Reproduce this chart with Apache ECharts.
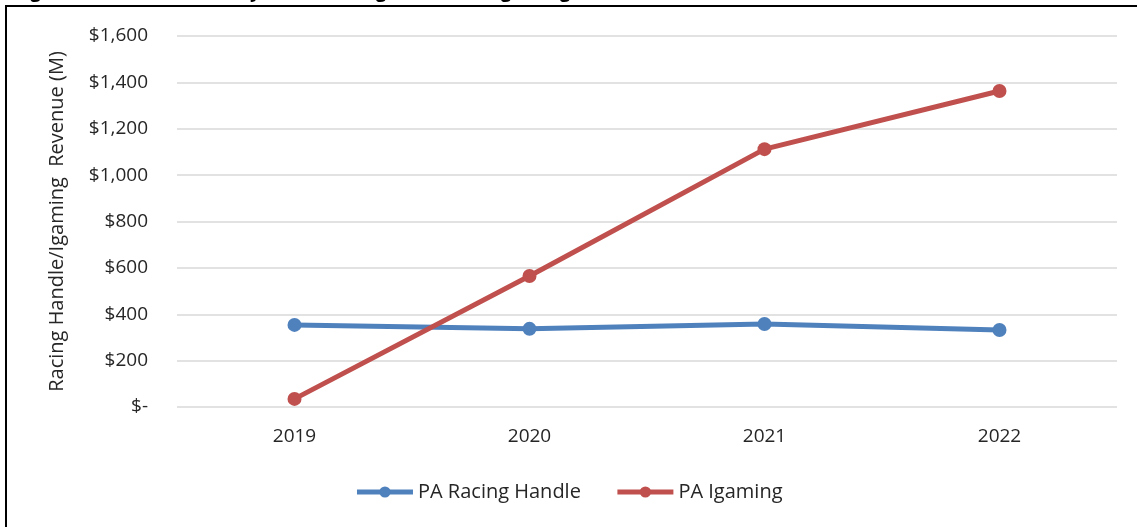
<!DOCTYPE html>
<html>
<head>
<meta charset="utf-8">
<style>
  html, body { margin: 0; padding: 0; background: #ffffff; }
  #chart { width: 1137px; height: 527px; }
</style>
<script src="https://cdn.jsdelivr.net/npm/echarts@6/dist/echarts.min.js"></script>
</head>
<body>
<div id="chart"></div>
<script>
// Yearly values, in millions of dollars
const years = ['2019', '2020', '2021', '2022'];
const racingHandle = [354, 337, 358, 332];
const igamingRevenue = [35, 565, 1112, 1363];
const seriesNames = ['PA Racing Handle', 'PA Igaming'];
const yAxisTitle = 'Racing Handle/Igaming  Revenue (M)';
const figureTitle = 'Figure 4: Trends in Pennsylvania Racing Handle vs. Igaming Revenue, 2019-2022';

const FONT = '"Open Sans", "Liberation Sans", sans-serif';
const BLUE = '#4F81BD';
const RED = '#C0504D';
const TEXT = '#262626';

function dollars(v) {
  if (v === 0) return '$-';
  return '$' + v.toLocaleString('en-US');
}

const chart = echarts.init(document.getElementById('chart'), null, { renderer: 'canvas' });

chart.setOption({
  backgroundColor: '#ffffff',
  animation: false,
  graphic: [
    {
      // figure caption sits above the frame; only its lowest strokes fall on the page
      type: 'text',
      x: 14,
      y: 1,
      style: {
        text: figureTitle,
        font: 'bold 19px ' + FONT,
        fill: '#000000',
        verticalAlign: 'bottom'
      },
      z: 1
    },
    {
      type: 'rect',
      shape: { x: 6, y: 6, width: 1300, height: 700 },
      style: { fill: 'transparent', stroke: '#000000', lineWidth: 2 },
      silent: true,
      z: 2
    }
  ],
  grid: { left: 177, right: 20, top: 36, bottom: 120, containLabel: false },
  legend: {
    bottom: 20,
    left: 'center',
    itemWidth: 56,
    itemHeight: 14,
    itemGap: 34,
    lineStyle: { width: 5 },
    textStyle: { fontFamily: FONT, fontSize: 20, color: TEXT },
    data: seriesNames
  },
  xAxis: {
    type: 'category',
    data: years,
    boundaryGap: true,
    axisLine: { show: false },
    axisTick: { show: false },
    axisLabel: { fontFamily: FONT, fontSize: 19, color: TEXT, margin: 20 }
  },
  yAxis: {
    type: 'value',
    min: 0,
    max: 1600,
    interval: 200,
    name: yAxisTitle,
    nameLocation: 'middle',
    nameGap: 110,
    nameRotate: 90,
    nameTextStyle: { fontFamily: FONT, fontSize: 20, color: TEXT },
    axisLine: { show: false },
    axisTick: { show: false },
    axisLabel: {
      fontFamily: FONT, fontSize: 19, color: TEXT, margin: 29,
      formatter: dollars
    },
    splitLine: { lineStyle: { color: '#D9D9D9', width: 1.5 } }
  },
  series: [
    {
      name: seriesNames[0],
      type: 'line',
      data: racingHandle,
      symbol: 'circle',
      symbolSize: 14,
      lineStyle: { color: BLUE, width: 5 },
      itemStyle: { color: BLUE }
    },
    {
      name: seriesNames[1],
      type: 'line',
      data: igamingRevenue,
      symbol: 'circle',
      symbolSize: 14,
      lineStyle: { color: RED, width: 5 },
      itemStyle: { color: RED }
    }
  ]
});
</script>
</body>
</html>
